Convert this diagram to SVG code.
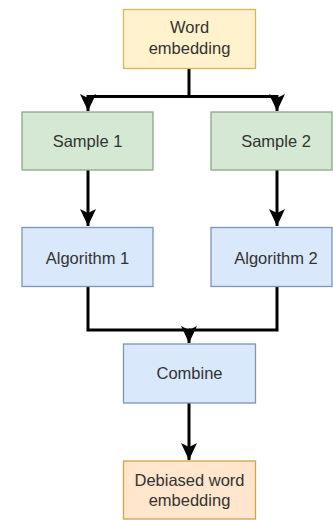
<svg xmlns="http://www.w3.org/2000/svg" width="333" height="520" viewBox="0 0 333 520">
<style>
  .box { stroke-width: 1.3; }
  .yellow { fill: #fff2cc; stroke: #d6b656; }
  .green { fill: #d5e8d4; stroke: #8aa886; }
  .blue { fill: #dae8fc; stroke: #7d93b8; }
  .orange { fill: #ffe6cc; stroke: #d6a341; }
  .lbl { font-family: "Liberation Sans", Arial, sans-serif; font-size: 16.5px; fill: #333333; text-anchor: middle; }
  .conn { fill: none; stroke: #000000; stroke-width: 3; }
</style>
<defs>
  <marker id="arr" viewBox="0 0 17 16" refX="17" refY="8" markerWidth="17" markerHeight="16" markerUnits="userSpaceOnUse" orient="auto">
    <path d="M0,0 L17,8 L0,16 L4,8 Z" fill="#000000"/>
  </marker>
</defs>
<rect width="333" height="520" fill="#ffffff"/>
<g id="connectors">
  <path class="conn" d="M189,68 V96.5 H88 V111" marker-end="url(#arr)"/>
  <path class="conn" d="M189,96.5 H277 V111" marker-end="url(#arr)"/>
  <path class="conn" d="M88,170 V226" marker-end="url(#arr)"/>
  <path class="conn" d="M277,170 V226" marker-end="url(#arr)"/>
  <path class="conn" d="M88,287 V330 H189 V343" marker-end="url(#arr)"/>
  <path class="conn" d="M277,287 V330 H189"/>
  <path class="conn" d="M189,403 V460" marker-end="url(#arr)"/>
</g>
<g id="word-embedding">
  <rect class="box yellow" x="123.5" y="9.5" width="132" height="59"/>
  <text class="lbl" x="189.5" y="33">Word</text>
  <text class="lbl" x="189.5" y="54">embedding</text>
</g>
<g id="sample-1">
  <rect class="box green" x="22" y="112" width="131" height="58"/>
  <text class="lbl" x="87.5" y="147">Sample 1</text>
</g>
<g id="sample-2">
  <rect class="box green" x="211" y="112" width="121" height="58"/>
  <text class="lbl" x="276" y="147">Sample 2</text>
</g>
<g id="algorithm-1">
  <rect class="box blue" x="22" y="227.5" width="131" height="59"/>
  <text class="lbl" x="87.5" y="264">Algorithm 1</text>
</g>
<g id="algorithm-2">
  <rect class="box blue" x="211" y="227.5" width="121" height="59"/>
  <text class="lbl" x="276" y="264">Algorithm 2</text>
</g>
<g id="combine">
  <rect class="box blue" x="123.5" y="344" width="132" height="59"/>
  <text class="lbl" x="189.5" y="379">Combine</text>
</g>
<g id="debiased-word-embedding">
  <rect class="box orange" x="123.5" y="461" width="132" height="58"/>
  <text class="lbl" x="189.5" y="486">Debiased word</text>
  <text class="lbl" x="189.5" y="506">embedding</text>
</g>
</svg>
